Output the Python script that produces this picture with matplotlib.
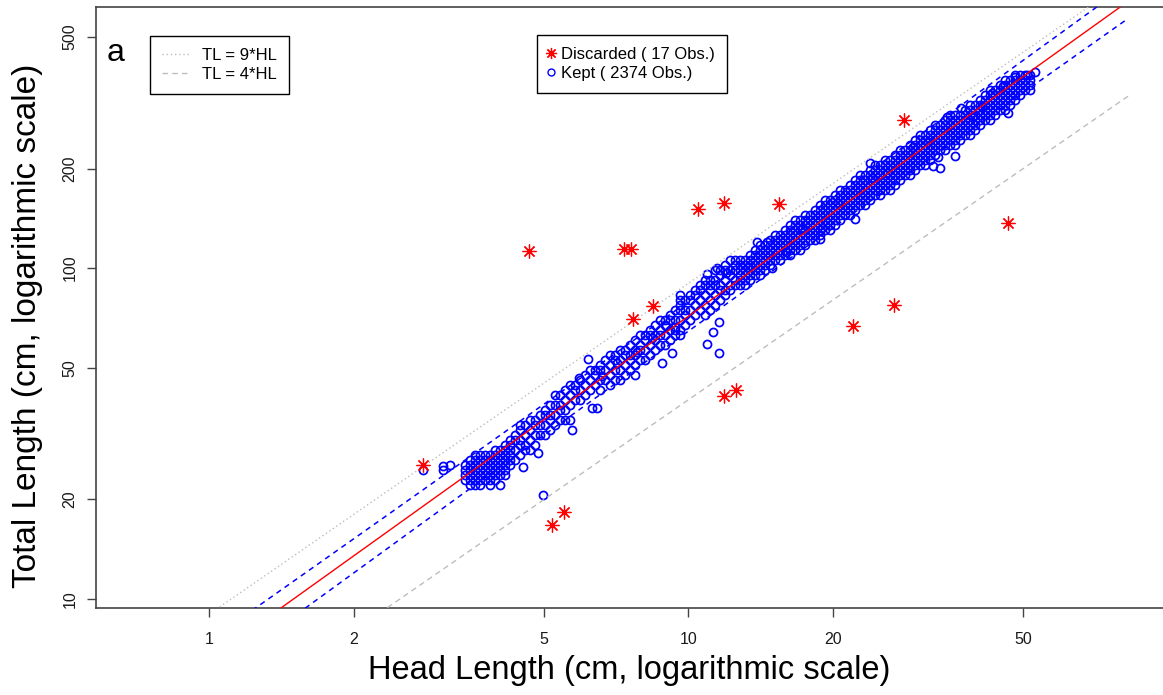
import matplotlib
matplotlib.use("Agg")
import matplotlib.pyplot as plt
from matplotlib.lines import Line2D
from matplotlib.ticker import NullLocator
import numpy as np

plt.rcParams['font.family'] = ['Liberation Sans', 'DejaVu Sans']

# discarded observations: head length (cm), total length (cm)
disc_hl = [2.79, 5.19, 5.50, 4.65, 7.34, 7.59, 8.44, 7.67, 10.48, 11.87,
           15.46, 11.87, 12.58, 22.07, 26.88, 28.2, 46.5]
disc_tl = [25.4, 16.7, 18.3, 112.7, 114, 114.5, 76.9, 70.2, 151, 157,
           156, 41.1, 42.9, 66.9, 77.4, 280, 137]

kept_hl = [3.42, 3.50, 3.59, 3.67, 3.76, 3.85, 3.95, 4.05, 4.14, 4.24,
           4.35, 4.45, 4.56, 4.67, 4.79, 4.90, 5.02, 5.14, 5.27, 5.40,
           5.53, 5.66, 5.80, 5.94, 6.09, 6.23, 6.39, 6.54, 6.70, 6.86,
           7.03, 7.20, 7.38, 7.55, 7.74, 7.93, 8.12, 8.32, 8.52, 8.73,
           8.94, 9.16, 9.38, 9.61, 9.84, 10.08, 10.33, 10.58, 10.84, 11.10,
           11.37, 11.65, 11.93, 12.22, 12.52, 12.82, 13.14, 13.45, 13.78, 14.12,
           14.46, 14.81, 15.17, 15.54, 15.92, 16.31, 16.70, 17.11, 17.53, 17.95,
           18.39, 18.84, 19.30, 19.77, 20.25, 20.74, 21.25, 21.76, 22.29, 22.84,
           23.39, 23.96, 24.54, 25.14, 25.75, 26.38, 27.02, 27.67, 28.35, 29.03,
           29.74, 30.46, 31.20, 31.96, 32.73, 33.53, 34.35, 35.18, 36.04, 36.91,
           37.81, 38.73, 39.67, 40.64, 41.63, 42.64, 43.68, 44.74, 45.83, 46.94,
           48.09, 49.26, 50.46, 51.69]
kept_tl = [
    [25.4, 24.5, 23.7, 22.9],
    [26.3, 25.4, 24.5, 23.7, 22.9, 22.1],
    [27.3, 26.3, 25.4, 24.5, 23.7, 22.9, 22.1],
    [27.3, 26.3, 25.4, 24.5, 23.7, 22.9, 22.1],
    [27.3, 26.3, 25.4, 24.5, 23.7, 22.9],
    [27.3, 26.3, 25.4, 24.5, 23.7, 22.9, 22.1],
    [28.2, 27.3, 26.3, 25.4, 24.5, 23.7, 22.9],
    [28.2, 27.3, 26.3, 25.4, 24.5, 23.7, 22.1],
    [29.2, 28.2, 27.3, 26.3, 25.4, 24.5, 23.7],
    [30.2, 29.2, 28.2, 27.3, 26.3, 25.4],
    [31.3, 30.2, 28.2, 26.3],
    [33.6, 32.4, 30.2, 29.2, 27.3],
    [33.6, 31.3, 29.2, 28.2],
    [34.8, 32.4, 30.2, 28.2],
    [34.8, 33.6, 31.3, 29.2],
    [36.0, 33.6, 31.3],
    [37.3, 36.0, 33.6, 31.3],
    [38.6, 36.0, 34.8, 32.4],
    [41.4, 38.6, 36.0, 33.6],
    [41.4, 38.6, 37.3, 34.8],
    [42.8, 40.0, 37.3, 34.8],
    [44.4, 41.4, 38.6, 34.8],
    [44.4, 42.8, 40.0],
    [45.9, 42.8, 40.0],
    [47.6, 44.4, 41.4],
    [49.2, 45.9, 42.8],
    [49.2, 47.6, 44.4],
    [51.0, 49.2, 45.9, 42.8],
    [52.8, 49.2, 45.9],
    [54.7, 51.0, 47.6, 44.4],
    [54.7, 52.8, 49.2, 45.9],
    [56.6, 52.8, 49.2, 45.9],
    [56.6, 54.7, 51.0, 47.6],
    [58.6, 54.7, 52.8, 49.2],
    [60.7, 56.6, 54.7, 51.0, 47.6],
    [62.8, 58.6, 56.6, 52.8],
    [62.8, 60.7, 56.6, 52.8],
    [65.0, 62.8, 58.6, 54.7],
    [67.3, 62.8, 60.7, 56.6],
    [69.7, 65.0, 62.8, 58.6],
    [69.7, 67.3, 62.8, 58.6],
    [72.2, 69.7, 65.0, 60.7],
    [74.7, 69.7, 65.0, 62.8],
    [83.0, 80.1, 77.4, 74.7, 69.7, 65.0, 62.8],
    [80.1, 74.7, 72.2, 67.3],
    [83.0, 80.1, 74.7, 69.7],
    [85.9, 83.0, 77.4, 72.2],
    [89.0, 85.9, 80.1, 74.7],
    [92.1, 89.0, 83.0, 77.4, 72.2],
    [92.1, 89.0, 85.9, 80.1, 74.7],
    [98.8, 92.1, 89.0, 83.0, 77.4],
    [98.8, 95.4, 89.0, 85.9, 80.1],
    [102.3, 98.8, 92.1, 85.9, 83.0],
    [105.9, 98.8, 95.4, 89.0, 85.9],
    [105.9, 102.3, 98.8, 92.1, 89.0],
    [105.9, 102.3, 98.8, 95.4, 92.1, 89.0],
    [105.9, 102.3, 98.8, 95.4, 92.1, 89.0],
    [109.6, 105.9, 102.3, 98.8, 95.4, 92.1],
    [113.5, 109.6, 105.9, 102.3, 98.8, 95.4],
    [117.5, 113.5, 109.6, 105.9, 102.3, 98.8, 95.4],
    [117.5, 113.5, 109.6, 105.9, 102.3, 98.8],
    [121.7, 117.5, 113.5, 109.6, 105.9, 102.3],
    [126.0, 121.7, 117.5, 113.5, 109.6, 105.9],
    [126.0, 121.7, 117.5, 113.5, 109.6, 105.9],
    [130.5, 126.0, 121.7, 117.5, 113.5, 109.6],
    [135.1, 130.5, 126.0, 121.7, 117.5, 113.5],
    [139.9, 135.1, 130.5, 126.0, 121.7, 117.5, 113.5],
    [139.9, 135.1, 130.5, 126.0, 121.7, 117.5, 113.5],
    [144.8, 139.9, 135.1, 130.5, 126.0, 121.7, 117.5],
    [144.8, 139.9, 135.1, 130.5, 126.0, 121.7],
    [150.0, 144.8, 139.9, 135.1, 130.5, 126.0, 121.7],
    [155.2, 150.0, 144.8, 139.9, 135.1, 130.5, 126.0],
    [160.8, 155.2, 150.0, 144.8, 139.9, 135.1, 130.5],
    [160.8, 155.2, 150.0, 144.8, 139.9, 135.1, 130.5],
    [166.5, 160.8, 155.2, 150.0, 144.8, 139.9, 135.1],
    [172.3, 166.5, 160.8, 155.2, 150.0, 144.8, 139.9],
    [172.3, 166.5, 160.8, 155.2, 150.0, 144.8],
    [178.4, 172.3, 166.5, 160.8, 155.2, 150.0, 144.8],
    [184.8, 178.4, 172.3, 166.5, 160.8, 155.2, 150.0],
    [191.3, 184.8, 178.4, 172.3, 166.5, 160.8, 155.2],
    [191.3, 184.8, 178.4, 172.3, 166.5, 160.8, 155.2],
    [198.1, 191.3, 184.8, 178.4, 172.3, 166.5, 160.8],
    [205.1, 198.1, 191.3, 184.8, 178.4, 172.3, 166.5],
    [205.1, 198.1, 191.3, 184.8, 178.4, 172.3, 166.5],
    [212.3, 205.1, 198.1, 191.3, 184.8, 178.4, 172.3],
    [212.3, 205.1, 198.1, 191.3, 184.8, 178.4, 172.3],
    [219.9, 212.3, 205.1, 198.1, 191.3, 184.8, 178.4],
    [227.7, 219.9, 212.3, 205.1, 198.1, 191.3, 184.8],
    [227.7, 219.9, 212.3, 205.1, 198.1, 191.3],
    [235.7, 227.7, 219.9, 212.3, 205.1, 198.1, 191.3],
    [244.1, 235.7, 227.7, 219.9, 212.3, 205.1, 198.1],
    [252.7, 244.1, 235.7, 227.7, 219.9, 212.3, 205.1],
    [252.7, 244.1, 235.7, 227.7, 219.9, 212.3, 205.1],
    [261.7, 252.7, 244.1, 235.7, 227.7, 219.9, 212.3],
    [270.9, 261.7, 252.7, 244.1, 235.7, 227.7, 219.9],
    [270.9, 261.7, 252.7, 244.1, 235.7, 227.7],
    [280.5, 270.9, 261.7, 252.7, 244.1, 235.7, 227.7],
    [290.4, 280.5, 270.9, 261.7, 252.7, 244.1, 235.7],
    [290.4, 280.5, 270.9, 261.7, 252.7, 244.1, 235.7],
    [290.4, 280.5, 270.9, 261.7, 252.7, 244.1],
    [300.7, 290.4, 280.5, 270.9, 261.7, 252.7],
    [311.3, 300.7, 290.4, 280.5, 270.9, 261.7, 252.7],
    [311.3, 300.7, 290.4, 280.5, 270.9, 261.7],
    [322.4, 311.3, 300.7, 290.4, 280.5, 270.9],
    [333.8, 322.4, 311.3, 300.7, 290.4, 280.5],
    [345.6, 333.8, 322.4, 311.3, 300.7, 290.4, 280.5],
    [345.6, 333.8, 322.4, 311.3, 300.7, 290.4],
    [357.8, 345.6, 333.8, 322.4, 311.3, 300.7],
    [370.5, 357.8, 345.6, 333.8, 322.4, 311.3, 300.7],
    [370.5, 357.8, 345.6, 333.8, 322.4, 311.3],
    [383.6, 370.5, 357.8, 345.6, 333.8, 322.4],
    [383.6, 370.5, 357.8, 345.6, 333.8],
    [383.6, 370.5, 357.8, 345.6],
    [383.6, 370.5, 345.6],
]

# scattered kept points away from the main band
kept_extra_hl = [2.79, 3.07, 3.07, 3.18, 4.52, 4.97, 6.17, 6.30, 6.45, 5.72,
                 4.85, 8.81, 9.25, 10.94, 11.26, 11.6, 11.6, 9.38, 10.94, 11.5,
                 13.91, 14.96, 16.31, 18.84, 22.29, 23.96, 32.4, 33.5, 33.2, 36.0,
                 37.1, 34.6, 43.1, 46.5, 52.9, 48.1, 50.9, 45.4, 51.7,
                 5.9, 6.6, 7.1, 7.8, 8.4, 9.0, 12.0, 13.3, 14.6, 16.0,
                 17.3, 19.0, 20.5, 24.2, 26.0, 29.4, 31.6, 39.2, 41.0]
kept_extra_tl = [24.5, 25.2, 24.6, 25.4, 25.1, 20.6, 53.2, 37.8, 37.8, 32.4,
                 27.6, 51.7, 55.4, 59.0, 64.1, 68.8, 55.4, 66.4, 96.0, 100.1,
                 120, 100.1, 109.6, 122.6, 140.8, 208, 204, 201, 217, 218,
                 305, 286, 338, 294, 392, 378, 384, 355, 357.8,
                 46.5, 47.1, 51.8, 55.9, 61.3, 67.0, 97.0, 101.0, 119.8, 112.3,
                 131.6, 132.5, 157.3, 187.7, 194.0, 232.4, 240.2, 288.0, 309.0]

# log10(TL) = fit_a + fit_b * log10(HL), prediction band half-width parameters
fit_a = 0.8177
fit_b = 1.037
band_k, band_m, band_s = 0.045, 1.1, 2.05
line_hl = (0.6, 82.8)

x_ticks = [1, 2, 5, 10, 20, 50]
y_ticks = [10, 20, 50, 100, 200, 500]

W, H = 1163, 695
fig = plt.figure(figsize=(W / 100, H / 100), dpi=100)
ax = fig.add_axes([96 / W, 1 - 608 / H, (W - 96) / W, (608 - 7) / H])
ax.set_xscale('log')
ax.set_yscale('log')
ax.set_xlim(0.580, 97.9)
ax.set_ylim(9.39, 616)

all_hl = []
all_tl = []
for h, col in zip(kept_hl, kept_tl):
    all_hl += [h] * len(col)
    all_tl += col
all_hl += kept_extra_hl
all_tl += kept_extra_tl

ax.plot(all_hl, all_tl, ls='none', marker='o', mfc='none', mec='blue',
        ms=5.8, mew=1.25, zorder=2)

hl = np.logspace(np.log10(line_hl[0]), np.log10(line_hl[1]), 300)
lx = np.log10(hl)
center = fit_a + fit_b * lx
half = band_k * np.sqrt(1 + (lx - band_m) ** 2 / band_s)

ax.plot(hl, 9 * hl, color='#bdbdbd', ls=(0, (1, 2)), lw=1.0, zorder=3)
ax.plot(hl, 4 * hl, color='#bdbdbd', ls=(0, (4, 3)), lw=1.0, zorder=3)
ax.plot(hl, 10 ** (center + half), color='blue', ls=(0, (3.5, 3)), lw=1.1, zorder=3)
ax.plot(hl, 10 ** (center - half), color='blue', ls=(0, (3.5, 3)), lw=1.1, zorder=3)
ax.plot(hl, 10 ** center, color='red', lw=1.0, zorder=4)

ax.plot(disc_hl, disc_tl, ls='none', marker=(8, 2, 0), ms=10, color='red',
        mew=0.9, zorder=5)

ax.xaxis.set_minor_locator(NullLocator())
ax.yaxis.set_minor_locator(NullLocator())
ax.set_xticks(x_ticks)
ax.set_xticklabels([str(t) for t in x_ticks])
ax.set_yticks(y_ticks)
ax.set_yticklabels([str(t) for t in y_ticks], rotation=90, va='center')
ax.tick_params(axis='both', length=6.5, width=1.0, color='#444444',
               labelsize=11.5, labelcolor='#1a1a1a')
ax.tick_params(axis='x', pad=11)
ax.tick_params(axis='y', pad=7)
for side in ['top', 'left', 'bottom']:
    ax.spines[side].set_color('#444444')
    ax.spines[side].set_linewidth(1.2)
ax.spines['right'].set_visible(False)

fig.text((96 + W) / 2 / W, 1 - 671 / H, 'Head Length (cm, logarithmic scale)',
         fontsize=23.5, ha='center', va='center')
fig.text(28 / W, 1 - 326 / H, 'Total Length (cm, logarithmic scale)',
         fontsize=24, ha='center', va='center', rotation=90)
fig.text(107 / W, 1 - 61 / H, 'a', fontsize=23, ha='left', va='baseline')

line_handles = [
    Line2D([], [], color='#bdbdbd', ls=(0, (1, 2)), lw=1.0),
    Line2D([], [], color='#bdbdbd', ls=(0, (4, 3)), lw=1.0),
]
leg1 = ax.legend(line_handles, ['TL = 9*HL', 'TL = 4*HL'],
                 loc='upper left', bbox_to_anchor=(150 / W, 1 - 36 / H),
                 bbox_transform=fig.transFigure, borderaxespad=0,
                 fontsize=12, handlelength=1.75, handletextpad=0.67,
                 borderpad=0.7, labelspacing=0.28, fancybox=False,
                 edgecolor='black', framealpha=1)
leg1.get_frame().set_linewidth(1.0)
ax.add_artist(leg1)

point_handles = [
    Line2D([], [], ls='none', marker=(8, 2, 0), ms=8, color='red', mew=0.9),
    Line2D([], [], ls='none', marker='o', mfc='none', mec='blue', ms=5, mew=1.0),
]
leg2 = ax.legend(point_handles,
                 ['Discarded ( %d Obs.)' % len(disc_hl), 'Kept ( 2374 Obs.)'],
                 loc='upper left', bbox_to_anchor=(537 / W, 1 - 35 / H),
                 bbox_transform=fig.transFigure, borderaxespad=0,
                 fontsize=12, handlelength=0.3, handletextpad=0.46,
                 borderpad=0.7, labelspacing=0.28, numpoints=1,
                 fancybox=False, edgecolor='black', framealpha=1)
leg2.get_frame().set_linewidth(1.0)

fig.savefig('out.png', dpi=100)
